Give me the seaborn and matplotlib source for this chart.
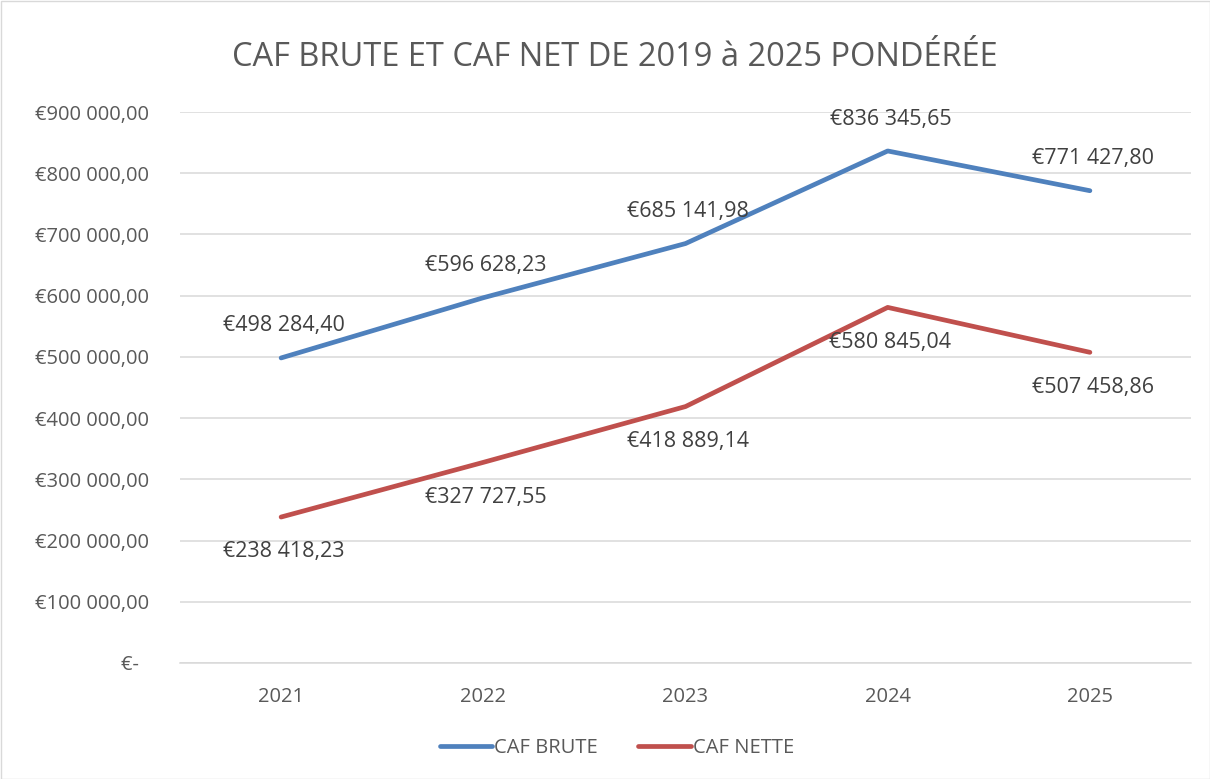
import matplotlib
matplotlib.use("Agg")
import matplotlib.pyplot as plt
import seaborn as sns
import pandas as pd
from matplotlib.ticker import FuncFormatter, MultipleLocator
from matplotlib.patches import Rectangle
from matplotlib.lines import Line2D

years = ["2021", "2022", "2023", "2024", "2025"]
caf_brute = [498284.40, 596628.23, 685141.98, 836345.65, 771427.80]
caf_nette = [238418.23, 327727.55, 418889.14, 580845.04, 507458.86]
series_names = ["CAF BRUTE", "CAF NETTE"]
colors = ["#4F81BD", "#C0504D"]
title = "CAF BRUTE ET CAF NET DE 2019 à 2025 PONDÉRÉE"

df = pd.DataFrame({
    "year": years * 2,
    "value": caf_brute + caf_nette,
    "series": [series_names[0]] * len(years) + [series_names[1]] * len(years),
})

sns.set_theme(style="white")
plt.rcParams["font.family"] = ["Open Sans", "DejaVu Sans"]

fig = plt.figure(figsize=(12.10, 7.79), dpi=100)
ax = fig.add_axes([180/1210, 1 - 663/779, (1191-180)/1210, (663-112)/779])

sns.lineplot(data=df, x="year", y="value", hue="series", palette=colors,
             linewidth=3.4, ax=ax, sort=False, legend=False)

def fmt(v):
    if abs(v) < 0.5:
        return "€-"
    s = f"{v:,.2f}"
    ent, dec = s.split(".")
    return "€" + ent.replace(",", " ") + "," + dec

ax.set_ylim(0, 900000)
ax.set_xlim(-0.5, len(years) - 0.5)
ax.yaxis.set_major_locator(MultipleLocator(100000))
ax.yaxis.set_major_formatter(FuncFormatter(lambda v, p: fmt(v) if v != 0 else "€-  "))
ax.grid(axis="y", color="#d9d9d9", linewidth=1.1)
ax.grid(axis="x", visible=False)
for s in ["top", "right", "left"]:
    ax.spines[s].set_visible(False)
ax.spines["bottom"].set_color("#d9d9d9")
ax.spines["bottom"].set_linewidth(1.1)
ax.tick_params(axis="y", length=0, pad=22, labelsize=14.5, labelcolor="#595959")
ax.tick_params(axis="x", length=0, pad=17, labelsize=14.5, labelcolor="#595959")
ax.set_xlabel("")
ax.set_ylabel("")

for i, v in enumerate(caf_brute):
    ax.annotate(fmt(v), (i, v), xytext=(2, 23), textcoords="offset points",
                ha="center", va="center", fontsize=15.5, color="#404040")
for i, v in enumerate(caf_nette):
    ax.annotate(fmt(v), (i, v), xytext=(2, -25), textcoords="offset points",
                ha="center", va="center", fontsize=15.5, color="#404040")

fig.text(615/1210, 1 - 58/779, title, ha="center", va="center",
         fontsize=23.5, color="#595959")

handles = [Line2D([0], [0], color=c, linewidth=3.4) for c in colors]
fig.legend(handles, series_names, loc="center", bbox_to_anchor=(617/1210, 1 - 748/779),
           ncol=2, frameon=False, fontsize=14.5, handlelength=2.6, handletextpad=0.1,
           columnspacing=2.0, labelcolor="#595959")

fig.patches.append(Rectangle((0.5/1210, 0.5/779), 1 - 1/1210, 1 - 1/779, transform=fig.transFigure,
                             fill=False, edgecolor="#d9d9d9", linewidth=1))

fig.savefig("out.png", dpi=100, facecolor="white")
